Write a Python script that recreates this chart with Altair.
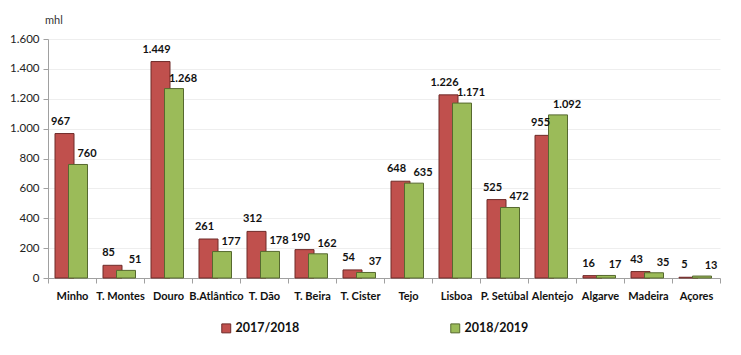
import altair as alt
import pandas as pd

regions = ["Minho", "T. Montes", "Douro", "B.Atlântico", "T. Dão", "T. Beira", "T. Cister",
           "Tejo", "Lisboa", "P. Setúbal", "Alentejo", "Algarve", "Madeira", "Açores"]
v2017 = [967, 85, 1449, 261, 312, 190, 54, 648, 1226, 525, 955, 16, 43, 5]
v2018 = [760, 51, 1268, 177, 178, 162, 37, 635, 1171, 472, 1092, 17, 35, 13]
series = ["2017/2018", "2018/2019"]
fills = ["#C0504D", "#9BBB59"]
strokes = ["#6f2b29", "#56692f"]
unit = ["mhl"]

rows = []
for r, a, b in zip(regions, v2017, v2018):
    rows.append({"region": r, "series": series[0], "value": a})
    rows.append({"region": r, "series": series[1], "value": b})
df = pd.DataFrame(rows)

FONT = "Lato"

x = alt.X("region:N", sort=regions, title=None,
          scale=alt.Scale(paddingInner=0, paddingOuter=0),
          axis=alt.Axis(labelAngle=0, labelFont=FONT, labelFontWeight="bold", labelFontSize=11,
                        labelColor="#111", tickBand="extent", domainColor="#a0a0a0",
                        tickColor="#a0a0a0", tickSize=5, labelPadding=7))
xo = alt.XOffset("series:N", scale=alt.Scale(domain=series, range=[9.75, 36.75],
                                              paddingInner=0, paddingOuter=0))
y = alt.Y("value:Q", title=None,
          scale=alt.Scale(domain=[0, 1600], nice=False),
          axis=alt.Axis(values=list(range(0, 1601, 200)), labelFont=FONT, labelFontSize=11.5,
                        labelColor="#222", domainColor="#a0a0a0", tickColor="#a0a0a0", tickSize=5,
                        gridColor="#eeeeee", labelPadding=4, labelOverlap=False,
                        labelExpr="replace(format(datum.value, ','), ',', '.')"))

bars = alt.Chart(df).mark_bar(width=19, strokeWidth=1).encode(
    x=x, xOffset=xo, y=y,
    fill=alt.Fill("series:N", scale=alt.Scale(domain=series, range=fills),
                  legend=alt.Legend(title=None, orient="none", direction="horizontal",
                                    legendX=172, legendY=283, symbolType="square",
                                    symbolSize=80, symbolStrokeColor="#555", symbolStrokeWidth=1,
                                    labelFont=FONT, labelFontSize=12.5, labelFontWeight="bold",
                                    labelColor="#111", columnPadding=148, symbolOffset=0,
                                    labelOffset=3)),
    stroke=alt.Stroke("series:N", scale=alt.Scale(domain=series, range=strokes), legend=None),
)

def labels(s, dx, dy):
    return alt.Chart(df).transform_filter(alt.datum.series == s).transform_calculate(
        lbl="replace(format(datum.value, ','), ',', '.')"
    ).mark_text(font=FONT, fontSize=11, fontWeight="bold", color="#111", dx=dx, dy=dy,
                baseline="bottom").encode(
        x=x, xOffset=xo, y=y, text="lbl:N")

mhl = alt.Chart(pd.DataFrame({"t": unit})).mark_text(
    font=FONT, fontSize=11, color="#333", align="left").encode(
    x=alt.value(-3), y=alt.value(-18), text="t:N")

chart = alt.layer(bars, labels(series[0], -4, -7), labels(series[1], 9, -5), mhl).properties(
    width=672, height=239,
    autosize=alt.AutoSizeParams(type="none"),
    padding={"left": 40, "top": 31, "right": 13, "bottom": 70},
).configure_view(stroke=None).configure_axisX(grid=False)

chart.save("out.html", embed_options={"renderer": "svg", "actions": False})
